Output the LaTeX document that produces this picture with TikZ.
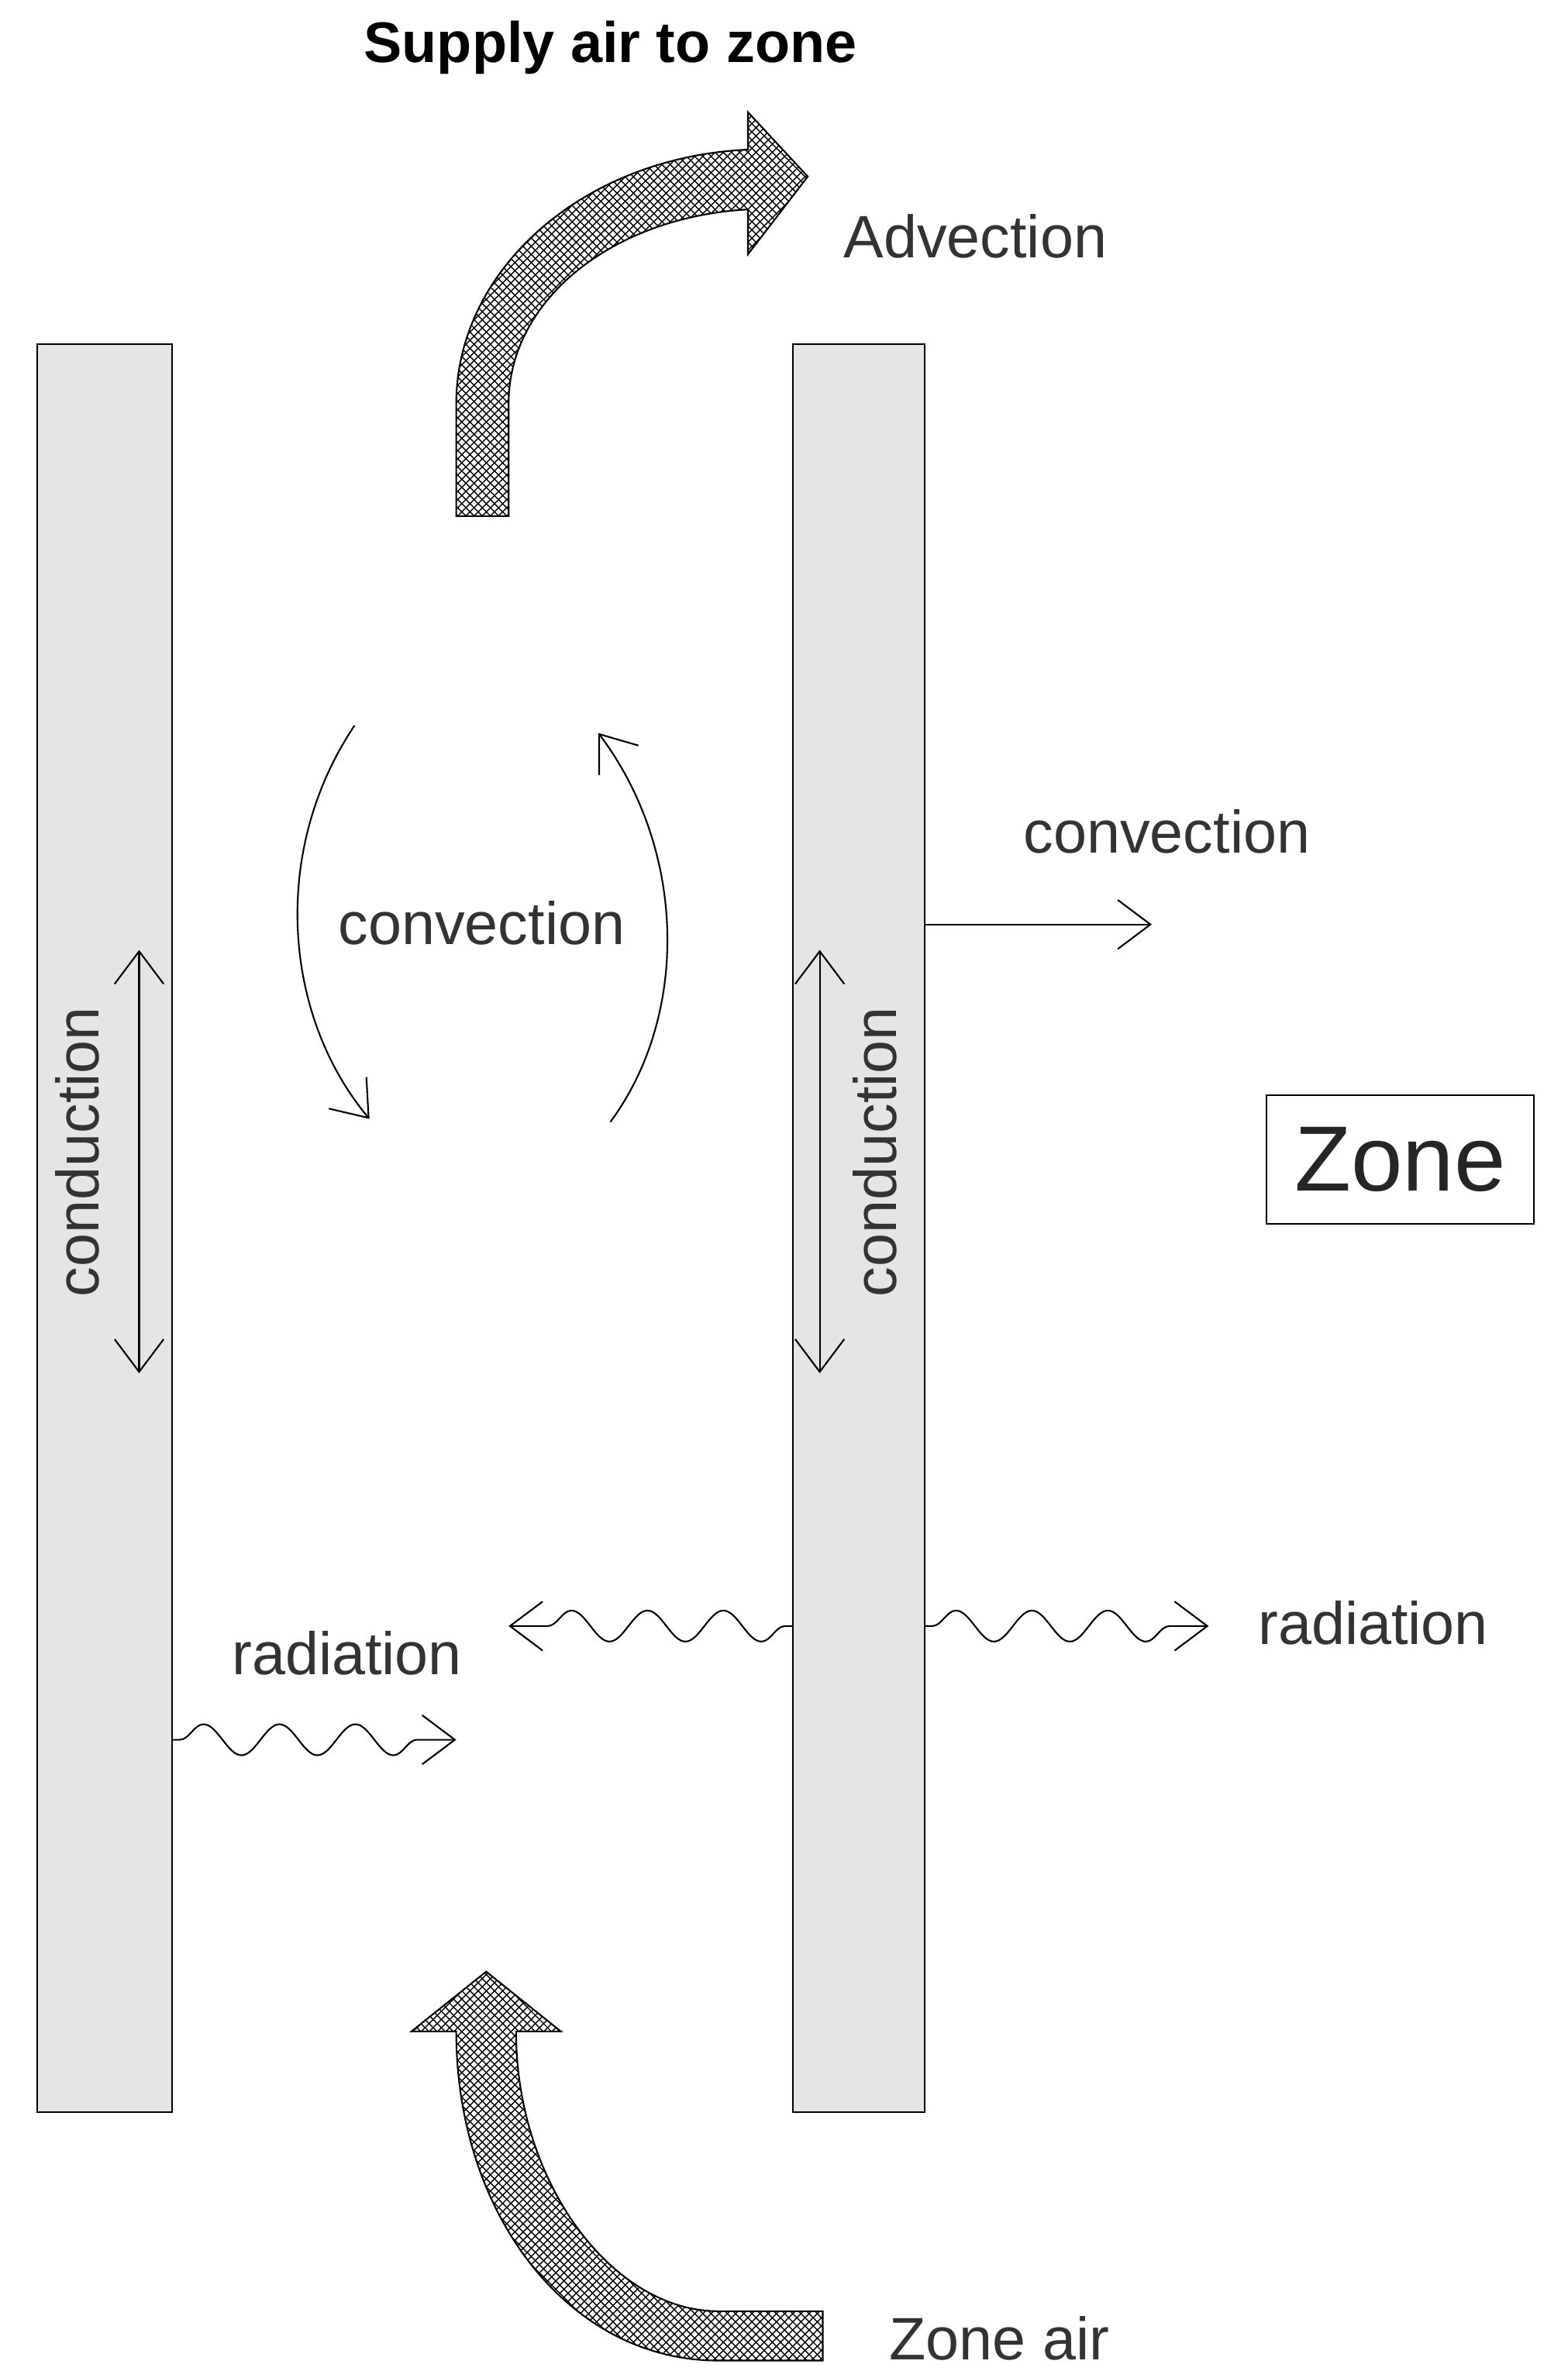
\documentclass[tikz,border=0pt]{standalone}
\usepackage{fontspec}
\setmainfont{Liberation Sans}
\usetikzlibrary{arrows.meta, patterns, decorations.pathmorphing, positioning}
\tikzset{
	wall/.style={draw=black, fill=gray!20, line width=0.6pt},
	lbl/.style={text=black!80, font=\fontsize{22}{26}\selectfont},
	thin arrow/.style={line width=0.6pt, -{Straight Barb[length=12pt,width=18pt]}},
	both arrow/.style={line width=0.6pt, {Straight Barb[length=12pt,width=18pt]}-{Straight Barb[length=12pt,width=18pt]}},
	wave/.style={line width=0.6pt, -{Straight Barb[length=12pt,width=18pt]},
		decorate, decoration={snake, segment length=0.98cm, amplitude=0.2cm, post length=0.5cm, pre length=0.1cm}},
	flow/.style={draw=black, line width=0.6pt, pattern=crosshatch}
}
\begin{document}
\begin{tikzpicture}[x=0.0193cm, y=-0.0193cm]
	\useasboundingbox (0,0) rectangle (1048,1585);
	% walls
	\node (lwall) [wall, inner sep=0, minimum width=90*0.0193cm, minimum height=1182*0.0193cm] at (70,821) {};
	\node (rwall) [wall, inner sep=0, minimum width=88*0.0193cm, minimum height=1182*0.0193cm] at (574,821) {};
	\node (zone) [draw, line width=0.6pt, minimum width=179*0.0193cm, minimum height=86*0.0193cm, font=\fontsize{34}{40}\selectfont, text=black!85] at (936,775) {Zone};
	% advection arrows
	\draw [flow] (305,345) -- (305,270) .. controls (305,180) and (390,105) .. (500,100) -- (500,75) -- (540,118) -- (500,170) -- (500,140) .. controls (410,145) and (340,200) .. (340,270) -- (340,345) -- cycle;
	\draw [flow] (550,1578) -- (480,1578) .. controls (380,1578) and (305,1480) .. (305,1358) -- (275,1358) -- (325,1318) -- (375,1358) -- (345,1358) .. controls (345,1460) and (410,1545) .. (480,1545) -- (550,1545) -- cycle;
	\node (supply) [lbl, font=\bfseries\fontsize{21}{26}\selectfont, text=black] at (408,32) {Supply air to zone};
	\node (advec) [lbl] at (652,158) {Advection};
	\node (zair) [lbl] at (668,1563) {Zone air};
	% convection in cavity
	\coordinate (c1) at (237,485);
	\coordinate (c2) at (247,748);
	\coordinate (c3) at (408,750);
	\coordinate (c4) at (400,490);
	\draw [thin arrow] (c1) .. controls (180,570) and (190,680) .. (c2);
	\draw [thin arrow] (c3) .. controls (460,680) and (460,570) .. (c4);
	\node (conv1) [lbl] at (322,617) {convection};
	% convection to zone
	\coordinate (cz) at (770,618);
	\draw [thin arrow] (rwall.east |- cz) -- (cz);
	\node (conv2) [lbl] at (780,556) {convection};
	% conduction
	\coordinate (d1) at (93,635);
	\coordinate (d2) at (93,918);
	\coordinate (d3) at (548,635);
	\coordinate (d4) at (548,918);
	\draw [both arrow] (d1) -- (d2);
	\draw [both arrow] (d3) -- (d4);
	\node (cond1) [lbl, rotate=90] at (52,770) {conduction};
	\node (cond2) [lbl, rotate=90] at (585,770) {conduction};
	% radiation
	\coordinate (r1) at (115,1163);
	\coordinate (r2) at (305,1163);
	\coordinate (r3) at (530,1087);
	\coordinate (r4) at (340,1087);
	\coordinate (r5) at (618,1087);
	\coordinate (r6) at (808,1087);
	\draw [wave] (r1) -- (r2);
	\draw [wave] (r3) -- (r4);
	\draw [wave] (r5) -- (r6);
	\node (rad1) [lbl] at (232,1105) {radiation};
	\node (rad2) [lbl] at (918,1085) {radiation};
\end{tikzpicture}
\end{document}
